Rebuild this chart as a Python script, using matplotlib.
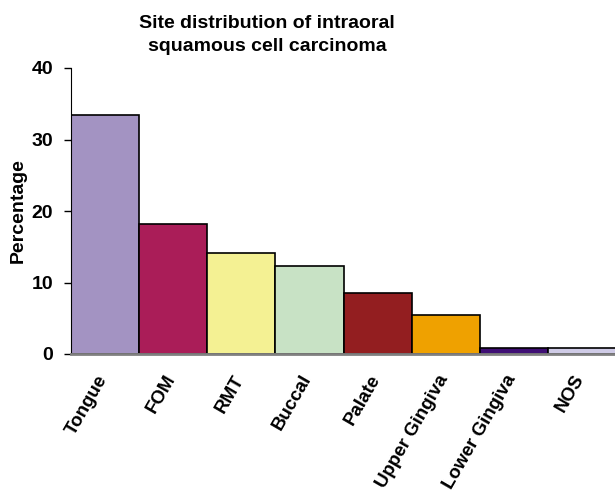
import matplotlib.pyplot as plt
from matplotlib.transforms import ScaledTranslation

plt.rcParams['font.family'] = ['Liberation Sans', 'DejaVu Sans']

sites = ["Tongue", "FOM", "RMT", "Buccal", "Palate",
         "Upper Gingiva", "Lower Gingiva", "NOS"]
percent = [33.4, 18.2, 14.1, 12.3, 8.5, 5.4, 0.9, 0.9]
colors = ["#A393C2", "#AA1D58", "#F4F193", "#C8E2C5", "#931E20",
          "#EFA100", "#3F0F74", "#CFCBE6"]

fig = plt.figure(figsize=(6.15, 4.95), dpi=100)
ax = fig.add_axes([71 / 615, 141 / 495, 545 / 615, 286 / 495])

x = range(len(sites))
ax.bar(x, percent, width=1.0, color=colors, edgecolor="black", linewidth=1.2)

ax.set_xlim(-0.5, len(sites) - 0.5)
ax.set_ylim(0, 40)
ax.set_yticks([0, 10, 20, 30, 40])
ax.tick_params(axis="y", direction="out", length=5, width=1, labelsize=14, pad=8)
ax.tick_params(axis="x", length=0, labelsize=13.5, pad=10)
for lbl in ax.get_yticklabels():
    lbl.set_fontweight("bold")

ax.set_xticks(list(x))
ax.set_xticklabels(sites, rotation=60, ha="right", rotation_mode="anchor",
                   fontweight="bold")
shift = ScaledTranslation(-0.09, -0.04, fig.dpi_scale_trans)
for lbl in ax.get_xticklabels():
    lbl.set_transform(lbl.get_transform() + shift)

ax.spines["top"].set_visible(False)
ax.spines["right"].set_visible(False)
ax.spines["bottom"].set_color("#808080")
ax.spines["bottom"].set_linewidth(2)

ax.set_ylabel("Percentage", fontsize=14, fontweight="bold", labelpad=3)
ax.set_title("Site distribution of intraoral\nsquamous cell carcinoma",
             fontsize=14, fontweight="bold", pad=12, x=0.36, linespacing=1.45)

fig.savefig("out.png", dpi=100)
